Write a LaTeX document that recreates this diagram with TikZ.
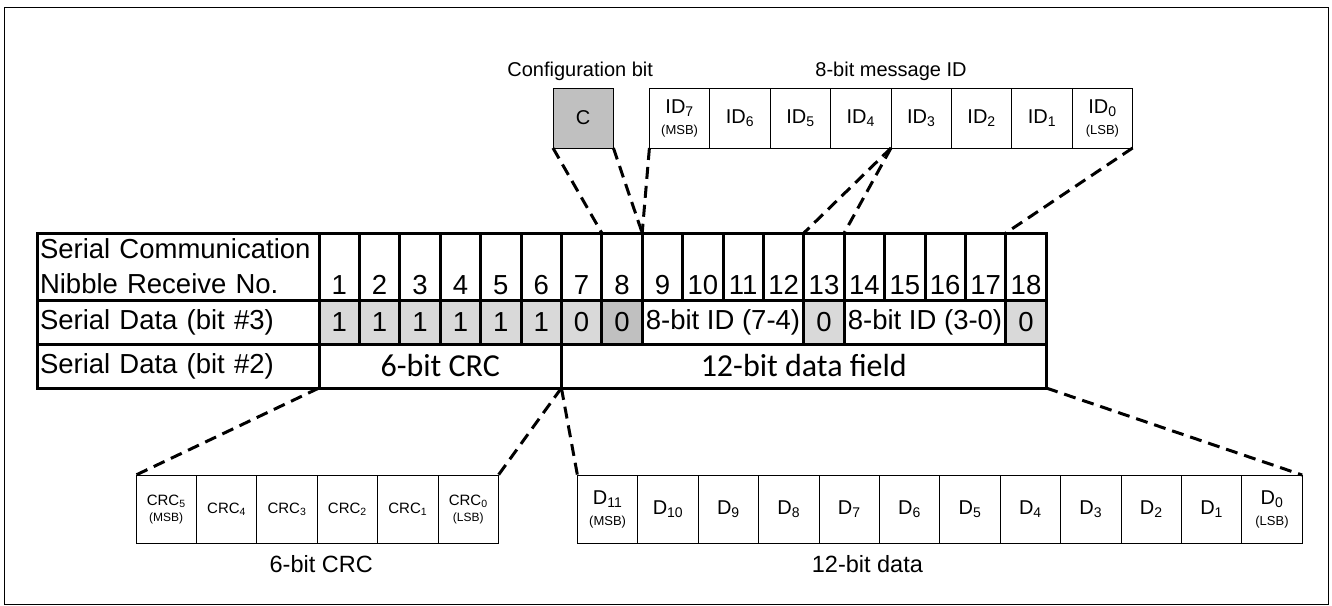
\documentclass[tikz,border=0pt]{standalone}
\usepackage{fontspec}
\setmainfont{Liberation Sans}
\newfontfamily\calibrifont{Carlito}
\usetikzlibrary{positioning}
\definecolor{bitgray}{HTML}{D9D9D9}
\definecolor{cfggray}{HTML}{C0C0C0}
\newcommand{\tabfont}{\fontsize{27.5}{35}\selectfont}
\newcommand{\fieldfont}{\calibrifont\fontsize{32}{36}\selectfont}
\newcommand{\boxfont}{\fontsize{20}{21}\selectfont}
\newcommand{\crcfont}{\fontsize{15}{16}\selectfont}
\newcommand{\tagfont}{\fontsize{13}{14}\selectfont}
\newcommand{\crctagfont}{\fontsize{12}{13}\selectfont}
\newcommand{\capfont}{\fontsize{20}{22}\selectfont}
\newcommand{\lowcapfont}{\fontsize{23.5}{26}\selectfont}
\tikzstyle{cell} = [rectangle, draw=black, line width=3pt, inner sep=0pt, outer sep=0pt, text centered, font=\tabfont]
\tikzstyle{rowlabel} = [cell, text width=276pt, inner xsep=3pt, align=left, minimum height=44pt]
\tikzstyle{numcell} = [cell, minimum width=40.4pt, minimum height=67pt, text height=55pt, text depth=0pt]
\tikzstyle{bitcell} = [cell, minimum width=40.4pt, minimum height=44pt, fill=bitgray]
\tikzstyle{fieldcell} = [cell, minimum height=44pt]
\tikzstyle{bitbox} = [rectangle, draw=black, line width=1pt, inner sep=0pt, outer sep=0pt, minimum width=60.4pt, minimum height=60pt, align=center, font=\boxfont]
\tikzstyle{lowbox} = [bitbox, minimum height=68pt]
\tikzstyle{crcbox} = [lowbox, font=\crcfont]
\tikzstyle{zoomline} = [line width=3pt, dash pattern=on 12pt off 7pt]

\begin{document}
\begin{tikzpicture}[x=1pt, y=-1pt]
    \useasboundingbox (0,0) rectangle (1332,605);
    \draw[line width=1pt] (4,7) rectangle (1328,604);

    % Table header row
    \node (hdr) [rowlabel, minimum height=67pt, anchor=north west] at (37,233) {Serial Communication\\Nibble Receive No.};
    \node (n1) [numcell, right=0pt of hdr] {1};
    \node (n2) [numcell, right=0pt of n1] {2};
    \node (n3) [numcell, right=0pt of n2] {3};
    \node (n4) [numcell, right=0pt of n3] {4};
    \node (n5) [numcell, right=0pt of n4] {5};
    \node (n6) [numcell, right=0pt of n5] {6};
    \node (n7) [numcell, right=0pt of n6] {7};
    \node (n8) [numcell, right=0pt of n7] {8};
    \node (n9) [numcell, right=0pt of n8] {9};
    \node (n10) [numcell, right=0pt of n9] {10};
    \node (n11) [numcell, right=0pt of n10] {11};
    \node (n12) [numcell, right=0pt of n11] {12};
    \node (n13) [numcell, right=0pt of n12] {13};
    \node (n14) [numcell, right=0pt of n13] {14};
    \node (n15) [numcell, right=0pt of n14] {15};
    \node (n16) [numcell, right=0pt of n15] {16};
    \node (n17) [numcell, right=0pt of n16] {17};
    \node (n18) [numcell, right=0pt of n17] {18};

    % Serial data bit #3
    \node (lbl3) [rowlabel, below=0pt of hdr] {Serial Data (bit \#3)};
    \node (b1) [bitcell, right=0pt of lbl3] {1};
    \node (b2) [bitcell, right=0pt of b1] {1};
    \node (b3) [bitcell, right=0pt of b2] {1};
    \node (b4) [bitcell, right=0pt of b3] {1};
    \node (b5) [bitcell, right=0pt of b4] {1};
    \node (b6) [bitcell, right=0pt of b5] {1};
    \node (b7) [bitcell, right=0pt of b6] {0};
    \node (b8) [bitcell, right=0pt of b7, fill=cfggray] {0};
    \node (idhi) [fieldcell, right=0pt of b8, minimum width=161.6pt] {8-bit ID (7-4)};
    \node (b13) [bitcell, right=0pt of idhi] {0};
    \node (idlo) [fieldcell, right=0pt of b13, minimum width=161.6pt] {8-bit ID (3-0)};
    \node (b18) [bitcell, right=0pt of idlo] {0};

    % Serial data bit #2
    \node (lbl2) [rowlabel, below=0pt of lbl3] {Serial Data (bit \#2)};
    \node (crcf) [fieldcell, right=0pt of lbl2, minimum width=242.4pt, font=\fieldfont] {6-bit CRC};
    \node (dataf) [fieldcell, right=0pt of crcf, minimum width=484.8pt, font=\fieldfont] {12-bit data field};

    % Configuration bit and message ID
    \node (cfg) [bitbox, fill=cfggray, anchor=north west] at (553,88) {C};
    \node (id7) [bitbox, right=36pt of cfg] {ID\textsubscript{7}\\{\tagfont (MSB)}};
    \node (id6) [bitbox, right=0pt of id7] {ID\textsubscript{6}};
    \node (id5) [bitbox, right=0pt of id6] {ID\textsubscript{5}};
    \node (id4) [bitbox, right=0pt of id5] {ID\textsubscript{4}};
    \node (id3) [bitbox, right=0pt of id4] {ID\textsubscript{3}};
    \node (id2) [bitbox, right=0pt of id3] {ID\textsubscript{2}};
    \node (id1) [bitbox, right=0pt of id2] {ID\textsubscript{1}};
    \node (id0) [bitbox, right=0pt of id1] {ID\textsubscript{0}\\{\tagfont (LSB)}};
    \node (cfgtxt) [above=7pt of cfg, xshift=-3pt, inner sep=0pt, font=\capfont] {Configuration bit};
    \node (idtxt) [above=7pt of id3.north west, inner sep=0pt, font=\capfont] {8-bit message ID};

    \draw [zoomline] (cfg.south west) -- (n7.north east);
    \draw [zoomline] (cfg.south east) -- (n8.north east);
    \draw [zoomline] (id7.south west) -- (n8.north east);
    \draw [zoomline] (id4.south east) -- (n12.north east);
    \draw [zoomline] (id3.south west) -- (n13.north east);
    \draw [zoomline] (id0.south east) -- (n17.north east);

    % CRC bits
    \node (crc5) [crcbox, anchor=north west] at (136,475) {CRC\textsubscript{5}\\{\crctagfont (MSB)}};
    \node (crc4) [crcbox, right=0pt of crc5] {CRC\textsubscript{4}};
    \node (crc3) [crcbox, right=0pt of crc4] {CRC\textsubscript{3}};
    \node (crc2) [crcbox, right=0pt of crc3] {CRC\textsubscript{2}};
    \node (crc1) [crcbox, right=0pt of crc2] {CRC\textsubscript{1}};
    \node (crc0) [crcbox, right=0pt of crc1] {CRC\textsubscript{0}\\{\crctagfont (LSB)}};
    \node (crctxt) [below=12pt of crc2.south west, xshift=4pt, inner sep=0pt, font=\lowcapfont] {6-bit CRC};

    % Data bits
    \node (d11) [lowbox, right=79pt of crc0] {D\textsubscript{11}\\{\tagfont (MSB)}};
    \node (d10) [lowbox, right=0pt of d11] {D\textsubscript{10}};
    \node (d9) [lowbox, right=0pt of d10] {D\textsubscript{9}};
    \node (d8) [lowbox, right=0pt of d9] {D\textsubscript{8}};
    \node (d7) [lowbox, right=0pt of d8] {D\textsubscript{7}};
    \node (d6) [lowbox, right=0pt of d7] {D\textsubscript{6}};
    \node (d5) [lowbox, right=0pt of d6] {D\textsubscript{5}};
    \node (d4) [lowbox, right=0pt of d5] {D\textsubscript{4}};
    \node (d3) [lowbox, right=0pt of d4] {D\textsubscript{3}};
    \node (d2) [lowbox, right=0pt of d3] {D\textsubscript{2}};
    \node (d1) [lowbox, right=0pt of d2] {D\textsubscript{1}};
    \node (d0) [lowbox, right=0pt of d1] {D\textsubscript{0}\\{\tagfont (LSB)}};
    \node (datatxt) [below=12pt of d6.south west, xshift=-12pt, inner sep=0pt, font=\lowcapfont] {12-bit data};

    \draw [zoomline] (lbl2.south east) -- (crc5.north west);
    \draw [zoomline] (crcf.south east) -- (crc0.north east);
    \draw [zoomline] (crcf.south east) -- (d11.north west);
    \draw [zoomline] (dataf.south east) -- (d0.north east);
\end{tikzpicture}
\end{document}
